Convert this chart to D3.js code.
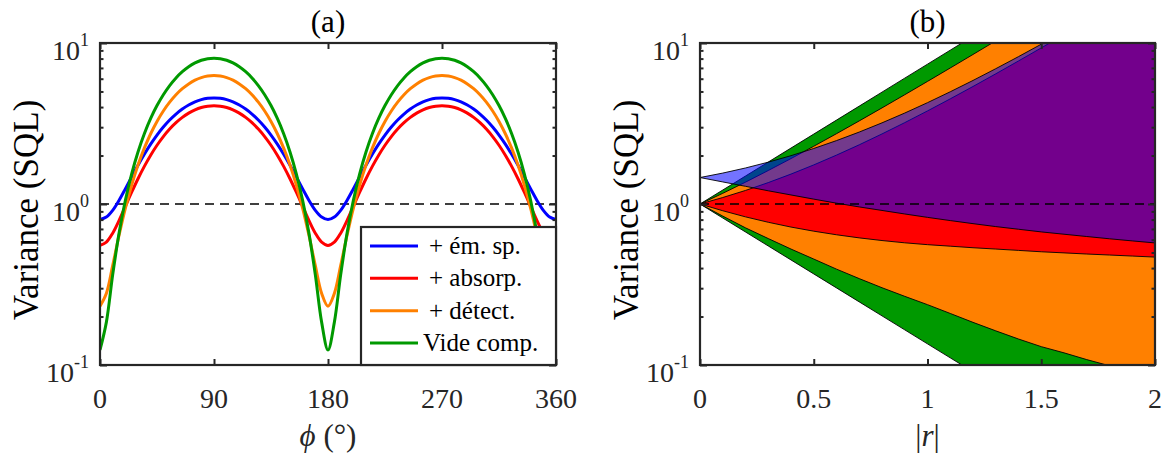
<!DOCTYPE html>
<html><head><meta charset="utf-8">
<script src="https://cdn.jsdelivr.net/npm/d3@7"></script>
<style>
html,body{margin:0;padding:0;background:#fff;}
svg{display:block;font-family:"Liberation Serif","DejaVu Serif",serif;}
</style></head><body>
<svg id="chart" width="1165" height="454"></svg>
<script>
// ---------- Panel (a) data : variance vs phi (degrees) ----------
const phiDeg = [0,5,10,15,20,25,30,35,40,45,50,55,60,65,70,75,80,85,90,
  95,100,105,110,115,120,125,130,135,140,145,150,155,160,165,170,175,180,
  185,190,195,200,205,210,215,220,225,230,235,240,245,250,255,260,265,270,
  275,280,285,290,295,300,305,310,315,320,325,330,335,340,345,350,355,360];
const blueA = [0.800,0.829,0.913,1.052,1.240,1.472,1.740,2.037,2.354,2.680,3.006,3.323,3.620,3.888,4.120,4.308,4.447,4.531,4.560,
  4.531,4.447,4.308,4.120,3.888,3.620,3.323,3.006,2.680,2.354,2.037,1.740,1.472,1.240,1.052,0.913,0.829,0.800,
  0.829,0.913,1.052,1.240,1.472,1.740,2.037,2.354,2.680,3.006,3.323,3.620,3.888,4.120,4.308,4.447,4.531,4.560,
  4.531,4.447,4.308,4.120,3.888,3.620,3.323,3.006,2.680,2.354,2.037,1.740,1.472,1.240,1.052,0.913,0.829,0.800];
const redA = [0.553,0.580,0.659,0.789,0.966,1.183,1.435,1.713,2.010,2.317,2.623,2.920,3.198,3.450,3.667,3.844,3.974,4.053,4.080,
  4.053,3.974,3.844,3.667,3.450,3.198,2.920,2.623,2.317,2.010,1.713,1.435,1.183,0.966,0.789,0.659,0.580,0.553,
  0.580,0.659,0.789,0.966,1.183,1.435,1.713,2.010,2.317,2.623,2.920,3.198,3.450,3.667,3.844,3.974,4.053,4.080,
  4.053,3.974,3.844,3.667,3.450,3.198,2.920,2.623,2.317,2.010,1.713,1.435,1.183,0.966,0.789,0.659,0.580,0.553];
const orangeA = [0.232,0.278,0.414,0.637,0.940,1.312,1.744,2.222,2.731,3.256,3.781,4.290,4.768,5.200,5.573,5.875,6.098,6.234,6.280,
  6.234,6.098,5.875,5.573,5.200,4.768,4.290,3.781,3.256,2.731,2.222,1.744,1.312,0.940,0.637,0.414,0.278,0.232,
  0.278,0.414,0.637,0.940,1.312,1.744,2.222,2.731,3.256,3.781,4.290,4.768,5.200,5.573,5.875,6.098,6.234,6.280,
  6.234,6.098,5.875,5.573,5.200,4.768,4.290,3.781,3.256,2.731,2.222,1.744,1.312,0.940,0.637,0.414,0.278,0.232];
const greenA = [0.124,0.184,0.363,0.655,1.051,1.540,2.106,2.732,3.399,4.087,4.775,5.442,6.069,6.634,7.123,7.519,7.811,7.990,8.050,
  7.990,7.811,7.519,7.123,6.634,6.069,5.442,4.775,4.087,3.399,2.732,2.106,1.540,1.051,0.655,0.363,0.184,0.124,
  0.184,0.363,0.655,1.051,1.540,2.106,2.732,3.399,4.087,4.775,5.442,6.069,6.634,7.123,7.519,7.811,7.990,8.050,
  7.990,7.811,7.519,7.123,6.634,6.069,5.442,4.775,4.087,3.399,2.732,2.106,1.540,1.051,0.655,0.363,0.184,0.124];
const legendLabels = ["+ ém. sp.", "+ absorp.", "+ détect.", "Vide comp."];
const phiTicks = [0,90,180,270,360];

// ---------- Panel (b) data : variance bands vs |r| ----------
const rVals = [0,0.1,0.2,0.3,0.4,0.5,0.6,0.7,0.8,0.9,1.0,1.1,1.2,1.3,1.4,1.5,1.6,1.7,1.8,1.9,2.0];
const greenUp = [1,1.221,1.492,1.822,2.226,2.718,3.320,4.055,4.953,6.050,7.389,9.025,11.02,13.46,16.44,20.09,24.53,29.96,36.60,44.70,54.60];
const greenLo = [1,0.8187,0.6703,0.5488,0.4493,0.3679,0.3012,0.2466,0.2019,0.1653,0.1353,0.1108,0.0907,0.0743,0.0608,0.0498,0.0408,0.0334,0.0273,0.0224,0.0183];
const orangeUp = [1,1.165,1.367,1.614,1.915,2.284,2.733,3.282,3.953,4.772,5.773,6.995,8.487,10.31,12.54,15.26,18.58,22.64,27.59,33.65,41.04];
const orangeLo = [1,0.841,0.711,0.610,0.525,0.455,0.394,0.344,0.302,0.267,0.237,0.209,0.184,0.163,0.145,0.130,0.119,0.108,0.0989,0.0902,0.0822];
const redUp = [1,1.097,1.214,1.358,1.534,1.749,2.012,2.332,2.724,3.202,3.786,4.499,5.370,6.434,7.734,9.321,11.26,13.63,16.52,20.05,24.37];
const redLo = [1,0.908,0.832,0.770,0.719,0.678,0.644,0.616,0.593,0.574,0.559,0.547,0.535,0.525,0.515,0.505,0.497,0.489,0.482,0.475,0.468];
const blueUp = [1.46,1.556,1.674,1.819,1.996,2.212,2.476,2.798,3.192,3.673,4.260,4.978,5.854,6.924,8.231,9.828,11.78,14.16,17.07,20.62,24.96];
const blueLo = [1.46,1.371,1.288,1.208,1.138,1.072,1.012,0.959,0.912,0.867,0.826,0.789,0.755,0.724,0.697,0.671,0.649,0.628,0.608,0.590,0.573];
const rTicks = [0,0.5,1,1.5,2];

const yMajor = [0.1,1,10];
const yMinor = [0.2,0.3,0.4,0.5,0.6,0.7,0.8,0.9,2,3,4,5,6,7,8,9];
const yExp = ["-1","0","1"];

// ---------- styling ----------
const C = {blue:"#0000ff", red:"#ff0000", orange:"#ff8000", green:"#009900", axis:"#262626"};
const yTop = 43, yBot = 365;
const panels = [{x0:100, x1:556}, {x0:700, x1:1155}];
const svg = d3.select("#chart");

function frame(g, x, y, xTicks, xFmt) {
  const [X0, X1] = x.range();
  g.append("g").attr("transform",`translate(0,${yBot})`)
    .call(d3.axisBottom(x).tickValues(xTicks).tickSizeInner(-6).tickSizeOuter(0).tickFormat(""));
  g.append("g").attr("transform",`translate(0,${yTop})`)
    .call(d3.axisTop(x).tickValues(xTicks).tickSizeInner(-6).tickSizeOuter(0).tickFormat(""));
  g.append("g").attr("transform",`translate(${X0},0)`)
    .call(d3.axisLeft(y).tickValues(yMajor).tickSizeInner(-7).tickSizeOuter(0).tickFormat(""));
  g.append("g").attr("transform",`translate(${X0},0)`)
    .call(d3.axisLeft(y).tickValues(yMinor).tickSizeInner(-3.5).tickSizeOuter(0).tickFormat(""));
  g.append("g").attr("transform",`translate(${X1},0)`)
    .call(d3.axisRight(y).tickValues(yMajor).tickSizeInner(-7).tickSizeOuter(0).tickFormat(""));
  g.append("g").attr("transform",`translate(${X1},0)`)
    .call(d3.axisRight(y).tickValues(yMinor).tickSizeInner(-3.5).tickSizeOuter(0).tickFormat(""));
  g.selectAll(".domain").remove();
  g.selectAll(".tick line").attr("stroke", C.axis).attr("stroke-width", 2);
  g.append("rect").attr("x",X0).attr("y",yTop).attr("width",X1-X0).attr("height",yBot-yTop)
    .attr("fill","none").attr("stroke",C.axis).attr("stroke-width",2.2);
  g.selectAll(".xl").data(xTicks).enter().append("text")
    .attr("x", d=>x(d)).attr("y", 408).attr("text-anchor","middle")
    .attr("font-size",28).attr("fill",C.axis).text(xFmt);
  yMajor.forEach((v,i)=>{
    const t = g.append("text").attr("x", X0-11).attr("y", y(v)+17)
      .attr("text-anchor","end").attr("fill",C.axis).attr("font-size",28);
    t.append("tspan").text("10");
    t.append("tspan").attr("font-size",18).attr("dy",-14).text(yExp[i]);
  });
}

function dashed(g, x, y) {
  g.append("line").attr("x1",x.range()[0]).attr("x2",x.range()[1])
    .attr("y1",y(1)).attr("y2",y(1)).attr("stroke","#000").attr("stroke-width",1.5)
    .attr("stroke-dasharray","9,6");
}

function yLabel(g, xpos) {
  g.append("text").attr("transform",`translate(${xpos},${(yTop+yBot)/2+6}) rotate(-90)`)
    .attr("text-anchor","middle").attr("font-size",35).attr("fill","#000").text("Variance (SQL)");
}

// ===== Panel (a) =====
{
  const p = panels[0];
  const x = d3.scaleLinear().domain([0,360]).range([p.x0,p.x1]);
  const y = d3.scaleLog().domain([0.1,10]).range([yBot,yTop]);
  const g = svg.append("g");
  g.append("clipPath").attr("id","clipA").append("rect")
    .attr("x",p.x0).attr("y",yTop).attr("width",p.x1-p.x0).attr("height",yBot-yTop);
  dashed(g, x, y);
  const line = d3.line().x((d,i)=>x(phiDeg[i])).y(d=>y(d)).curve(d3.curveCatmullRom.alpha(0.5));
  const series = [[blueA,C.blue],[redA,C.red],[orangeA,C.orange],[greenA,C.green]];
  const cg = g.append("g").attr("clip-path","url(#clipA)");
  series.forEach(([vals,col])=>{
    cg.append("path").datum(vals).attr("d",line).attr("fill","none")
      .attr("stroke",col).attr("stroke-width",3).attr("stroke-linejoin","round");
  });
  frame(g, x, y, phiTicks, d=>String(d));
  g.append("text").attr("x",(p.x0+p.x1)/2).attr("y",32).attr("text-anchor","middle")
    .attr("font-size",31).text("(a)");
  const xl = g.append("text").attr("x",(p.x0+p.x1)/2).attr("y",446).attr("text-anchor","middle")
    .attr("font-size",31).attr("fill",C.axis);
  xl.append("tspan").attr("font-style","italic").text("ϕ");
  xl.append("tspan").text(" (°)");
  yLabel(g, 38);
  const lg = g.append("g");
  const lx0 = 361, ly0 = 227, lx1 = p.x1, ly1 = yBot;
  lg.append("rect").attr("x",lx0).attr("y",ly0).attr("width",lx1-lx0).attr("height",ly1-ly0)
    .attr("fill","#fff").attr("stroke",C.axis).attr("stroke-width",2.2);
  const ly = d3.scalePoint().domain(legendLabels).range([246,343]);
  const lcols = [C.blue,C.red,C.orange,C.green];
  legendLabels.forEach((lab,i)=>{
    lg.append("line").attr("x1",370).attr("x2",418).attr("y1",ly(lab)).attr("y2",ly(lab))
      .attr("stroke",lcols[i]).attr("stroke-width",3);
    lg.append("text").attr("x",i===3?423:429).attr("y",ly(lab)+8).attr("font-size",25)
      .attr("fill","#000").text(lab);
  });
}

// ===== Panel (b) =====
{
  const p = panels[1];
  const x = d3.scaleLinear().domain([0,2]).range([p.x0,p.x1]);
  const y = d3.scaleLog().domain([0.1,10]).range([yBot,yTop]);
  const g = svg.append("g");
  g.append("clipPath").attr("id","clipB").append("rect")
    .attr("x",p.x0).attr("y",yTop).attr("width",p.x1-p.x0).attr("height",yBot-yTop);
  const cg = g.append("g").attr("clip-path","url(#clipB)");
  const bands = [
    [greenUp, greenLo, C.green, 1],
    [orangeUp, orangeLo, C.orange, 1],
    [redUp, redLo, C.red, 1],
    [blueUp, blueLo, C.blue, 0.55]
  ];
  bands.forEach(([up,lo,col,op])=>{
    const area = d3.area().x((d,i)=>x(rVals[i])).y0((d,i)=>y(lo[i])).y1((d,i)=>y(up[i]));
    cg.append("path").datum(up).attr("d",area).attr("fill",col).attr("fill-opacity",op)
      .attr("stroke","#000").attr("stroke-width",0.9).attr("stroke-linejoin","round");
  });
  dashed(g, x, y);
  frame(g, x, y, rTicks, d=>String(d));
  g.append("text").attr("x",(p.x0+p.x1)/2).attr("y",32).attr("text-anchor","middle")
    .attr("font-size",31).text("(b)");
  const xl = g.append("text").attr("x",(p.x0+p.x1)/2).attr("y",446).attr("text-anchor","middle")
    .attr("font-size",31).attr("fill",C.axis);
  xl.append("tspan").text("|");
  xl.append("tspan").attr("font-style","italic").text("r");
  xl.append("tspan").text("|");
  yLabel(g, 638);
}
</script>
</body></html>
